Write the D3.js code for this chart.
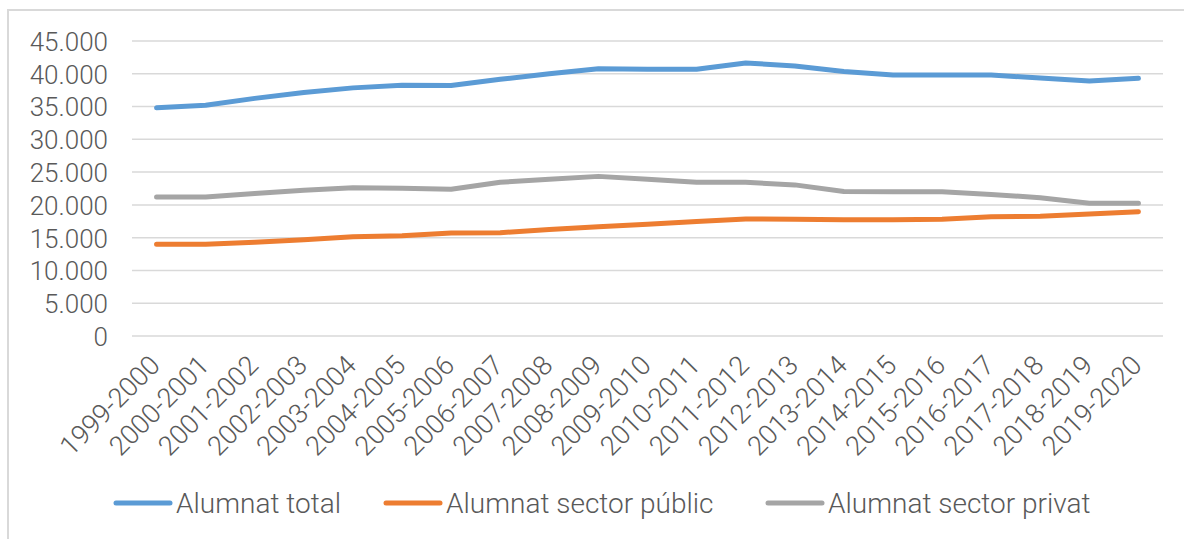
<!DOCTYPE html>
<html>
<head>
<meta charset="utf-8">
<script src="https://cdn.jsdelivr.net/npm/d3@7"></script>
<style>
  html, body { margin: 0; padding: 0; background: #fff; }
  svg { display: block; }
  text { font-family: Roboto, "Liberation Sans", sans-serif; font-weight: 300; fill: #595959; }
</style>
</head>
<body>
<svg id="chart" width="1184" height="539"></svg>
<script>
const categories = ["1999-2000","2000-2001","2001-2002","2002-2003","2003-2004","2004-2005","2005-2006","2006-2007","2007-2008","2008-2009","2009-2010","2010-2011","2011-2012","2012-2013","2013-2014","2014-2015","2015-2016","2016-2017","2017-2018","2018-2019","2019-2020"];
const total   = [34800,35200,36250,37150,37850,38250,38200,39150,40000,40750,40700,40700,41650,41200,40350,39800,39800,39800,39350,38900,39300];
const publicS = [14000,14000,14300,14700,15150,15300,15700,15750,16250,16650,17050,17450,17850,17800,17750,17750,17800,18200,18250,18600,18950];
const privat  = [21200,21200,21750,22250,22600,22550,22400,23450,23900,24350,23900,23450,23450,23050,22050,22000,22000,21600,21100,20250,20250];
const yTicks  = [0,5000,10000,15000,20000,25000,30000,35000,40000,45000];
const seriesNames = ["Alumnat total","Alumnat sector públic","Alumnat sector privat"];
const seriesColors = ["#5b9bd5","#ed7d31","#a5a5a5"];

const svg = d3.select("#chart");
const locale = d3.formatLocale({decimal: ",", thousands: ".", grouping: [3], currency: ["", " €"]});
const fmt = locale.format(",.0f");

// outer border
svg.append("rect").attr("x", 8).attr("y", 10).attr("width", 1200).attr("height", 560)
  .attr("fill", "none").attr("stroke", "#d9d9d9").attr("stroke-width", 2);

const x = d3.scaleBand().domain(categories).range([132, 1163]).padding(0);
const y = d3.scaleLinear().domain([0, 45000]).range([336, 41]);

// gridlines
svg.append("g").selectAll("line").data(yTicks).join("line")
  .attr("x1", 132).attr("x2", 1163)
  .attr("y1", d => y(d)).attr("y2", d => y(d))
  .attr("stroke", "#d9d9d9").attr("stroke-width", 1.5);

// y axis labels
const yAxis = d3.axisLeft(y).tickValues(yTicks).tickFormat(fmt).tickSize(0).tickPadding(0);
const gy = svg.append("g").attr("transform", "translate(108,0)").call(yAxis);
gy.select(".domain").remove();
gy.selectAll("text").attr("font-size", 26).attr("font-family", null).attr("fill", "#595959").attr("dy", "0.36em");

// x axis labels
const xAxis = d3.axisBottom(x).tickSize(0).tickPadding(0);
const gx = svg.append("g").attr("transform", "translate(0,336)").call(xAxis);
gx.select(".domain").remove();
gx.selectAll("text")
  .attr("font-size", 27).attr("font-family", null).attr("fill", "#595959")
  .attr("text-anchor", "end").attr("y", 0).attr("dy", 0)
  .attr("transform", "translate(5,31) rotate(-45)");

// lines
const cx = d => x(d) + x.bandwidth() / 2;
const line = d3.line().x((d, i) => cx(categories[i])).y(d => y(d));
[total, publicS, privat].forEach((s, k) => {
  svg.append("path").datum(s).attr("d", line)
    .attr("fill", "none").attr("stroke", seriesColors[k]).attr("stroke-width", 5)
    .attr("stroke-linejoin", "round").attr("stroke-linecap", "round");
});

// legend
const legendX = [116, 386, 768];
const lg = svg.append("g");
seriesNames.forEach((n, k) => {
  lg.append("line").attr("x1", legendX[k]).attr("x2", legendX[k] + 54)
    .attr("y1", 503).attr("y2", 503)
    .attr("stroke", seriesColors[k]).attr("stroke-width", 5).attr("stroke-linecap", "round");
  lg.append("text").attr("x", legendX[k] + 60).attr("y", 503).attr("dy", "0.36em")
    .attr("font-size", 28).text(n);
});
</script>
</body>
</html>
